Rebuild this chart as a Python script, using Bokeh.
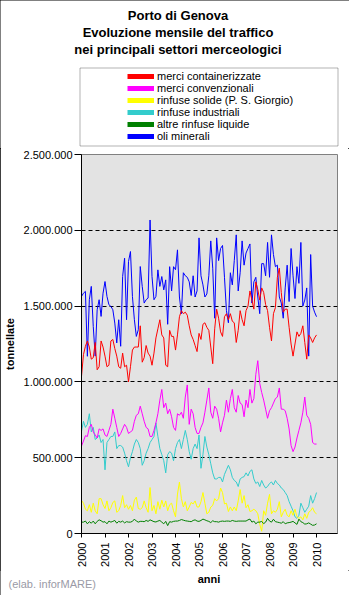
import math
from bokeh.plotting import figure
from bokeh.layouts import column
from bokeh.models import (Range1d, FixedTicker, Legend, LegendItem, BoxAnnotation)
from bokeh.core.properties import value
from bokeh.embed import file_html
from bokeh.resources import INLINE

# ---------------- data (monthly, Jan 2000 .. Jan 2010, thousand tonnes) -------------
title_lines = ["Porto di Genova", "Evoluzione mensile del traffico",
               "nei principali settori merceologici"]
year_labels = ["2000", "2001", "2002", "2003", "2004", "2005", "2006",
               "2007", "2008", "2009", "2010"]
y_tick_values = [0, 500000, 1000000, 1500000, 2000000, 2500000]
y_tick_labels = ["0", "500.000", "1.000.000", "1.500.000", "2.000.000", "2.500.000"]

series_names = ["merci containerizzate", "merci convenzionali",
                "rinfuse solide (P. S. Giorgio)", "rinfuse industriali",
                "altre rinfuse liquide", "oli minerali"]

merci_containerizzate = [
    1037, 1180, 1235, 1270, 1230, 1150, 1160, 1260, 1080, 1100, 1270, 1230,
    1170, 1100, 1110, 1270, 1280, 1220, 1170, 1100, 1090, 1190, 1100, 1110,
    1000, 1100, 1210, 1230, 1230, 1230, 1370, 1130, 1160, 1240, 1190, 1170,
    1110, 1190, 1290, 1350, 1410, 1310, 1290, 1110, 1100, 1340, 1300, 1300,
    1210, 1310, 1430, 1470, 1450, 1460, 1440, 1370, 1310, 1280, 1240, 1200,
    1320, 1280, 1380, 1390, 1360, 1340, 1230, 1120, 1350, 1480, 1420, 1330,
    1300, 1430, 1450, 1410, 1450, 1400, 1390, 1260, 1340, 1470, 1410, 1370,
    1470, 1500, 1600, 1540, 1480, 1660, 1610, 1540, 1620, 1590, 1510, 1470,
    1360, 1270, 1450, 1490, 1690, 1750, 1590, 1460, 1480, 1480, 1360, 1250,
    1170, 1250, 1330, 1300, 1320, 1370, 1260, 1150, 1310, 1290, 1260, 1290,
    1310]

merci_convenzionali = [
    577, 610, 645, 640, 700, 720, 670, 650, 630, 690, 680, 690,
    650, 640, 680, 720, 820, 760, 700, 640, 660, 690, 720, 700,
    660, 670, 680, 740, 780, 790, 840, 790, 740, 700, 690, 640,
    640, 680, 730, 790, 880, 950, 830, 860, 790, 820, 770, 700,
    680, 790, 780, 800, 760, 900, 980, 720, 820, 790, 700, 660,
    660, 700, 730, 800, 880, 960, 800, 760, 840, 820, 760, 670,
    730, 780, 880, 800, 890, 950, 830, 800, 910, 860, 850, 770,
    880, 830, 950, 860, 890, 1050, 1140, 990, 930, 880, 820, 760,
    810, 830, 860, 890, 900, 960, 820, 820, 810, 760, 690, 580,
    540, 570, 630, 680, 730, 800, 900, 780, 760, 720, 600, 590,
    590]

rinfuse_solide = [
    218, 200, 160, 150, 190, 140, 200, 150, 130, 230, 230, 190,
    165, 215, 150, 170, 205, 215, 140, 150, 185, 250, 170, 190,
    160, 185, 150, 220, 240, 165, 160, 170, 215, 170, 140, 303,
    150, 185, 130, 210, 160, 220, 175, 215, 150, 190, 200, 150,
    110, 260, 339, 230, 175, 210, 150, 175, 205, 195, 215, 175,
    175, 210, 270, 200, 130, 140, 175, 185, 230, 215, 230, 300,
    270, 195, 200, 145, 175, 150, 175, 150, 215, 290, 200, 250,
    170, 190, 145, 150, 160, 150, 130, 60, 15, 150, 120, 200,
    258, 130, 150, 140, 160, 210, 110, 140, 160, 120, 110, 150,
    120, 160, 110, 100, 110, 90, 130, 100, 140, 150, 170, 140,
    130]

rinfuse_industriali = [
    675, 740, 700, 720, 790, 670, 700, 620, 630, 650, 600, 620,
    420, 600, 620, 640, 640, 670, 560, 580, 580, 570, 530, 480,
    440, 500, 540, 590, 620, 600, 560, 450, 480, 530, 560, 600,
    620, 640, 730, 640, 560, 520, 480, 400, 520, 540, 530, 480,
    560, 600, 620, 560, 620, 680, 620, 540, 490, 560, 590, 560,
    650, 430, 520, 640, 570, 520, 460, 400, 360, 360, 370, 370,
    340, 390, 420, 450, 420, 370, 350, 340, 310, 360, 370, 375,
    400, 380, 410, 420, 360, 330, 340, 310, 350, 320, 300, 310,
    330, 340, 320, 350, 330, 320, 300, 290, 270, 250, 210, 180,
    150, 110, 100, 120, 200, 170, 140, 160, 180, 250, 200, 230,
    270]

altre_rinfuse_liquide = [
    75, 75, 82, 64, 78, 68, 82, 64, 80, 90, 84, 75,
    78, 64, 82, 75, 80, 86, 68, 80, 75, 82, 70, 78,
    75, 75, 80, 95, 82, 75, 80, 80, 78, 86, 80, 90,
    84, 78, 76, 82, 86, 75, 64, 80, 52, 78, 75, 80,
    82, 82, 86, 92, 88, 84, 82, 80, 78, 86, 90, 82,
    80, 86, 95, 90, 84, 80, 72, 84, 78, 78, 75, 80,
    82, 80, 82, 82, 80, 86, 82, 80, 82, 82, 82, 82,
    82, 90, 95, 75, 82, 64, 75, 75, 80, 65, 75, 100,
    82, 75, 94, 78, 75, 72, 68, 78, 64, 70, 72, 75,
    80, 70, 60, 95, 78, 72, 62, 64, 70, 62, 54, 56,
    64]

oli_minerali = [
    1564, 1585, 1597, 1169, 1542, 1630, 1366, 1170, 1476, 1542, 1432, 1585,
    1662, 1564, 1509, 1498, 1476, 1388, 1257, 1410, 1235, 1695, 1816, 1410,
    1794, 1860, 1564, 1410, 1300, 1344, 1761, 1630, 1520, 1542, 1553, 2068,
    1695, 1542, 1564, 1739, 1630, 1695, 1607, 1673, 1380, 1760, 1600, 1760,
    1740, 1871, 1560, 1450, 1720, 1700, 1690, 1660, 1570, 1700, 1560, 1600,
    1950, 1700, 1640, 1560, 1580, 1700, 1930, 1750, 1420, 1950, 1800, 1880,
    1900, 1690, 1470, 1390, 1720, 1640, 1800, 1970, 1600, 1720, 1930, 1770,
    1850, 1880, 1910, 1520, 1660, 1690, 1560, 1450, 1780, 1780, 1700, 1920,
    1690, 1970, 1840, 1760, 1770, 1560, 1520, 1420, 1620, 1770, 1530, 1880,
    1700, 1550, 1760, 1650, 1920, 1500, 1540, 1620, 1170, 1840, 1500, 1460,
    1430]

colors = ["#FF0000", "#FF00FF", "#FFFF00", "#33CCCC", "#008000", "#0000FF"]
all_series = [merci_containerizzate, merci_convenzionali, rinfuse_solide,
              rinfuse_industriali, altre_rinfuse_liquide, oli_minerali]

months = list(range(len(oli_minerali)))
year_ticks = [12 * i for i in range(len(year_labels))]

FONT = "Liberation Sans"
W = 349
NAN = float("nan")

# ---------------- header: title + legend ----------------
HH = 148
header = figure(width=W, height=HH, output_backend="svg", toolbar_location=None,
                x_range=Range1d(0, W), y_range=Range1d(HH, 0),
                x_axis_location=None, y_axis_location=None, min_border=0)
header.frame_align = False
header.grid.visible = False
header.outline_line_color = None
header.background_fill_color = "white"
header.border_fill_color = "white"

header.text(x=[177.5] * 3, y=[15, 32, 49], text=title_lines,
            text_align="center", text_baseline="middle",
            text_font=value(FONT), text_font_size="13px",
            text_font_style="bold", text_color="black")

header.add_layout(BoxAnnotation(left=79.5, right=337.5, top=67.5, bottom=145.5,
                                fill_alpha=0, line_color="black", line_width=1))

items = []
for i, name in enumerate(series_names):
    sw = header.line([NAN, NAN], [NAN, NAN], line_color=colors[i], line_width=5)
    items.append(LegendItem(label=name, renderers=[sw]))
legend = Legend(items=items, location=(127, HH - 141.7), padding=0, spacing=0,
                label_height=12, glyph_height=12, glyph_width=27,
                label_standoff=3, border_line_alpha=0,
                background_fill_alpha=0, margin=0,
                label_text_font=FONT, label_text_font_size="11px",
                label_text_color="black")
header.add_layout(legend)

# ---------------- main chart ----------------
MH = 422
p = figure(width=W, height=MH, output_backend="svg", toolbar_location=None,
           x_range=Range1d(0, 130.7), y_range=Range1d(0, 2500000),
           min_border_left=80, min_border_right=12, min_border_top=6,
           min_border_bottom=MH - 6 - 379)
p.background_fill_color = "#E3E3E3"
p.border_fill_color = "white"
p.outline_line_color = "#808080"

p.xaxis.ticker = FixedTicker(ticks=year_ticks)
p.xaxis.major_label_overrides = {t: l for t, l in zip(year_ticks, year_labels)}
p.xaxis.major_label_orientation = math.pi / 2
p.xaxis.major_tick_out = 4
p.xaxis.major_tick_in = 0
p.xaxis.major_label_standoff = 5

p.yaxis.ticker = FixedTicker(ticks=y_tick_values)
p.yaxis.major_label_overrides = {t: l for t, l in zip(y_tick_values, y_tick_labels)}
p.yaxis.major_tick_out = 7
p.yaxis.major_tick_in = 0
p.yaxis.major_label_standoff = 2
p.yaxis.axis_label = "tonnellate"
p.yaxis.axis_label_standoff = 5

for ax in (p.xaxis, p.yaxis):
    ax.minor_tick_line_color = None
    ax.axis_line_color = "black"
    ax.major_tick_line_color = "black"
    ax.major_label_text_font = FONT
    ax.major_label_text_font_size = "11px"
    ax.major_label_text_color = "black"
    ax.axis_label_text_font = FONT
    ax.axis_label_text_font_size = "11px"
    ax.axis_label_text_font_style = "bold"
    ax.axis_label_text_color = "black"

p.xgrid.visible = False
p.ygrid.ticker = FixedTicker(ticks=y_tick_values[1:-1])
p.ygrid.grid_line_color = "black"
p.ygrid.grid_line_dash = "4 3"
p.ygrid.grid_line_width = 1

for i in [5, 0, 3, 1, 2, 4]:
    vals = [v * 1000 for v in all_series[i]]
    p.line(months, vals, line_color=colors[i], line_width=1)

# ---------------- footer: axis title + source ----------------
FH = 595 - HH - MH
footer = figure(width=W, height=FH, output_backend="svg", toolbar_location=None,
                x_range=Range1d(0, W), y_range=Range1d(FH, 0),
                x_axis_location=None, y_axis_location=None, min_border=0)
footer.frame_align = False
footer.grid.visible = False
footer.outline_line_color = None
footer.background_fill_color = "white"
footer.border_fill_color = "white"
footer.text(x=[208.5], y=[578 - 570], text=["anni"], text_align="center",
            text_baseline="middle", text_font=value(FONT), text_font_size="11px",
            text_font_style="bold", text_color="black")
footer.text(x=[8], y=[583 - 570], text=["(elab. inforMARE)"], text_align="left",
            text_baseline="middle", text_font=value(FONT), text_font_size="11px",
            text_color="#9A9AA6")

layout = column(header, p, footer, spacing=0,
                styles={"outline": "1px solid black", "outline-offset": "-1px"})

open("out.html", "w").write(file_html(layout, INLINE))
